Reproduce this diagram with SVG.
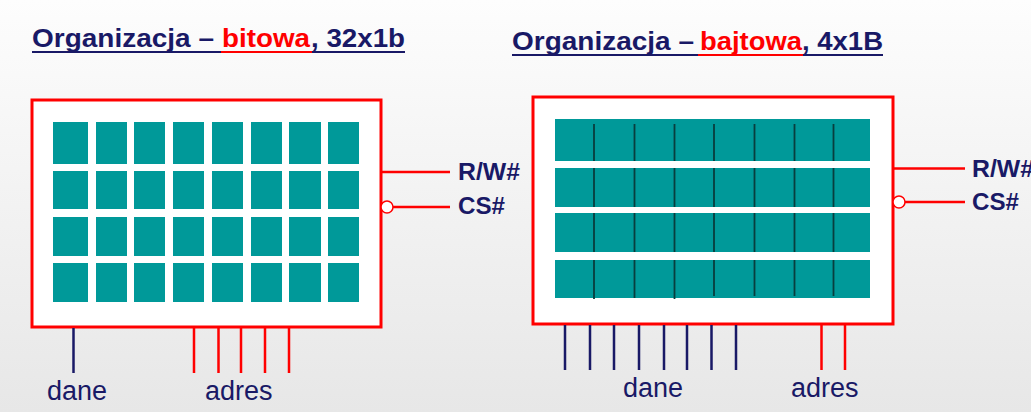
<svg xmlns="http://www.w3.org/2000/svg" width="1031" height="412" viewBox="0 0 1031 412">
  <defs>
    <linearGradient id="bg" x1="0" y1="0" x2="0" y2="1">
      <stop offset="0" stop-color="#fdfdfd"/>
      <stop offset="1" stop-color="#e7e7e7"/>
    </linearGradient>
    <style>
      .title { font-family: "Liberation Sans", Arial, sans-serif; font-weight: bold; font-size: 26px; fill: #191966; }
      .hl { fill: #ff0000; }
      .sig { font-family: "Liberation Sans", Arial, sans-serif; font-weight: bold; font-size: 23px; fill: #191966; }
      .lbl { font-family: "Liberation Sans", Arial, sans-serif; font-size: 27px; fill: #191966; }
      .chip { fill: #ffffff; stroke: #ff0000; stroke-width: 3; }
      .cell { fill: #009999; }
      .sep { stroke: #083e3e; stroke-width: 1.8; }
      .red { stroke: #ff0000; stroke-width: 2.5; fill: none; }
      .navy { stroke: #191966; stroke-width: 2.5; fill: none; }
      .ulN { stroke: #191966; stroke-width: 2.2; }
      .ulR { stroke: #ff0000; stroke-width: 2.2; }
      .neg { fill: #ffffff; stroke: #ff0000; stroke-width: 1.5; }
    </style>
  </defs>

  <rect x="0" y="0" width="1031" height="412" fill="url(#bg)"/>

  <!-- Titles -->
  <g id="title-bit">
    <text class="title" y="47">
      <tspan x="32" textLength="182" lengthAdjust="spacingAndGlyphs">Organizacja –</tspan>
      <tspan class="hl" x="222" textLength="88" lengthAdjust="spacingAndGlyphs">bitowa</tspan>
      <tspan x="311" textLength="94" lengthAdjust="spacingAndGlyphs">, 32x1b</tspan>
    </text>
    <line class="ulN" x1="32" y1="52" x2="221" y2="52"/>
    <line class="ulR" x1="221" y1="52" x2="312" y2="52"/>
    <line class="ulN" x1="312" y1="52" x2="405" y2="52"/>
  </g>
  <g id="title-byte">
    <text class="title" y="49.5">
      <tspan x="512" textLength="182" lengthAdjust="spacingAndGlyphs">Organizacja –</tspan>
      <tspan class="hl" x="700" textLength="102" lengthAdjust="spacingAndGlyphs">bajtowa</tspan>
      <tspan x="802" textLength="81" lengthAdjust="spacingAndGlyphs">, 4x1B</tspan>
    </text>
    <line class="ulN" x1="512" y1="55" x2="698" y2="55"/>
    <line class="ulR" x1="698" y1="55" x2="803" y2="55"/>
    <line class="ulN" x1="803" y1="55" x2="883" y2="55"/>
  </g>

  <!-- Bit-organised memory chip: 4 x 8 single-bit cells -->
  <g id="chip-bit">
    <rect class="chip" x="32" y="100" width="349" height="227"/>
    <g id="cells-bit">
      <rect class="cell" x="53" y="122" width="35" height="42"/>
      <rect class="cell" x="96" y="122" width="31" height="42"/>
      <rect class="cell" x="134" y="122" width="31" height="42"/>
      <rect class="cell" x="173" y="122" width="31" height="42"/>
      <rect class="cell" x="212" y="122" width="31" height="42"/>
      <rect class="cell" x="251" y="122" width="31" height="42"/>
      <rect class="cell" x="289" y="122" width="32" height="42"/>
      <rect class="cell" x="328" y="122" width="31" height="42"/>

      <rect class="cell" x="53" y="171" width="35" height="38"/>
      <rect class="cell" x="96" y="171" width="31" height="38"/>
      <rect class="cell" x="134" y="171" width="31" height="38"/>
      <rect class="cell" x="173" y="171" width="31" height="38"/>
      <rect class="cell" x="212" y="171" width="31" height="38"/>
      <rect class="cell" x="251" y="171" width="31" height="38"/>
      <rect class="cell" x="289" y="171" width="32" height="38"/>
      <rect class="cell" x="328" y="171" width="31" height="38"/>

      <rect class="cell" x="53" y="217" width="35" height="39"/>
      <rect class="cell" x="96" y="217" width="31" height="39"/>
      <rect class="cell" x="134" y="217" width="31" height="39"/>
      <rect class="cell" x="173" y="217" width="31" height="39"/>
      <rect class="cell" x="212" y="217" width="31" height="39"/>
      <rect class="cell" x="251" y="217" width="31" height="39"/>
      <rect class="cell" x="289" y="217" width="32" height="39"/>
      <rect class="cell" x="328" y="217" width="31" height="39"/>

      <rect class="cell" x="53" y="263" width="35" height="39"/>
      <rect class="cell" x="96" y="263" width="31" height="39"/>
      <rect class="cell" x="134" y="263" width="31" height="39"/>
      <rect class="cell" x="173" y="263" width="31" height="39"/>
      <rect class="cell" x="212" y="263" width="31" height="39"/>
      <rect class="cell" x="251" y="263" width="31" height="39"/>
      <rect class="cell" x="289" y="263" width="32" height="39"/>
      <rect class="cell" x="328" y="263" width="31" height="39"/>
    </g>
  </g>

  <!-- Byte-organised memory chip: 4 words of 8 bits -->
  <g id="chip-byte">
    <rect class="chip" x="533" y="97" width="360" height="227"/>
    <g id="rows-byte">
      <rect class="cell" x="555" y="119" width="315" height="42"/>
      <rect class="cell" x="555" y="168" width="315" height="39"/>
      <rect class="cell" x="555" y="213" width="315" height="39"/>
      <rect class="cell" x="555" y="260" width="315" height="38"/>
    </g>
    <path class="sep" d="M594,124V161 M634.5,124V161 M674.5,124V161 M714,124V161 M754.5,124V161 M794.5,124V161 M833.5,124V161
                         M594,168V207 M634.5,168V207 M674.5,168V207 M714,168V207 M754.5,168V207 M794.5,168V207 M833.5,168V207
                         M594,213V252 M634.5,213V252 M674.5,213V252 M714,213V252 M754.5,213V252 M794.5,213V252 M833.5,213V252
                         M594,260V299 M634.5,260V298 M674.5,260V299 M714,260V296 M754.5,260V296 M794.5,260V296 M833.5,260V296"/>
  </g>

  <!-- Signal and bus lines -->
  <g id="connectors">
    <line class="red" x1="381" y1="172" x2="450" y2="172"/>
    <line class="red" x1="393" y1="207" x2="450" y2="207"/>
    <circle class="neg" cx="387" cy="207" r="6"/>

    <line class="red" x1="893" y1="168.5" x2="965" y2="168.5"/>
    <line class="red" x1="905" y1="202" x2="965" y2="202"/>
    <circle class="neg" cx="899" cy="202" r="6"/>

    <line class="navy" x1="73.5" y1="328" x2="73.5" y2="373"/>
    <path class="red" d="M194,328V373 M218.5,328V373 M241,328V373 M265,328V373 M289,328V373"/>

    <path class="navy" d="M565,325V370 M590,325V370 M614,325V370 M639,325V370 M664,325V370 M687,325V370 M711.5,325V370 M736,325V370"/>
    <path class="red" d="M821.5,325V370 M845,325V370"/>
  </g>

  <!-- Labels -->
  <g id="labels">
    <text class="sig" x="458" y="180" textLength="62" lengthAdjust="spacingAndGlyphs">R/W#</text>
    <text class="sig" x="458" y="214" textLength="47" lengthAdjust="spacingAndGlyphs">CS#</text>
    <text class="sig" x="972" y="177" textLength="62" lengthAdjust="spacingAndGlyphs">R/W#</text>
    <text class="sig" x="972" y="210" textLength="47" lengthAdjust="spacingAndGlyphs">CS#</text>

    <text class="lbl" x="47" y="400">dane</text>
    <text class="lbl" x="205" y="400">adres</text>
    <text class="lbl" x="623" y="397">dane</text>
    <text class="lbl" x="791" y="397">adres</text>
  </g>
</svg>
